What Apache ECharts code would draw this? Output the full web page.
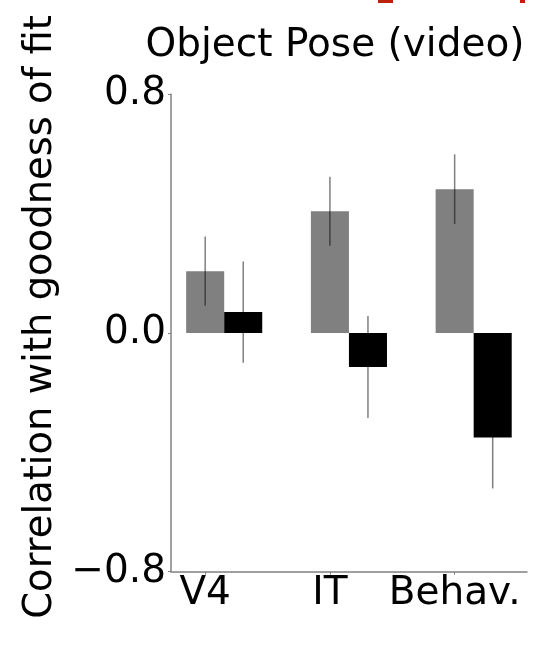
<!DOCTYPE html>
<html>
<head>
<meta charset="utf-8">
<script src="https://cdn.jsdelivr.net/npm/echarts@6/dist/echarts.min.js"></script>
<style>
html,body{margin:0;padding:0;background:#fff;}
#chart{width:552px;height:656px;}
</style>
</head>
<body>
<div id="chart"></div>
<script>
// ---- data ----
var categories = ['V4', 'IT', 'Behav.'];
var grayValues = [0.207, 0.408, 0.482];
var grayErrors = [0.116, 0.116, 0.117];
var blackValues = [0.070, -0.114, -0.350];
var blackErrors = [0.170, 0.171, 0.171];
var yTicks = [-0.8, 0.0, 0.8];
var titleText = 'Object Pose (video)';
var yLabel = 'Correlation with goodness of fit';

// ---- layout ----
var BAR_W = 0.305;          // bar width in category units
var FONT = '"DejaVu Sans", sans-serif';

function seriesData(vals, errs, offset) {
  return vals.map(function (v, i) { return [i + offset, v, errs[i]]; });
}

function barRender(color, errColor) {
  return function (params, api) {
    var x = api.value(0), v = api.value(1), e = api.value(2);
    var p0 = api.coord([x - BAR_W / 2, v]);
    var p1 = api.coord([x + BAR_W / 2, 0]);
    var top = Math.min(p0[1], p1[1]);
    var h = Math.abs(p1[1] - p0[1]);
    var eTop = api.coord([x, v + e]);
    var eBot = api.coord([x, v - e]);
    return {
      type: 'group',
      children: [
        { type: 'rect', shape: { x: p0[0], y: top, width: p1[0] - p0[0], height: h },
          style: { fill: color } },
        { type: 'line', shape: { x1: eTop[0], y1: eTop[1], x2: eBot[0], y2: eBot[1] },
          style: { stroke: errColor, lineWidth: 1.5 } }
      ]
    };
  };
}

var chart = echarts.init(document.getElementById('chart'), null, { renderer: 'canvas' });
chart.setOption({
  animation: false,
  backgroundColor: '#fff',
  title: {
    text: titleText,
    left: 330,
    top: 21,
    textAlign: 'center',
    textStyle: { fontFamily: FONT, fontSize: 39, fontWeight: 'normal', color: '#000' }
  },
  graphic: [
    { type: 'rect', shape: { x: 378, y: 0, width: 15, height: 3 }, style: { fill: '#c0200a' } },
    { type: 'rect', shape: { x: 520, y: 0, width: 5, height: 3 }, style: { fill: '#c0200a' } }
  ],
  grid: { left: 171, right: 25, top: 94.3, bottom: 84.3, containLabel: false },
  xAxis: {
    type: 'value',
    min: -0.274,
    max: 2.58,
    splitLine: { show: false },
    axisLine: { show: true, onZero: false, lineStyle: { color: '#808080', width: 1.5 } },
    axisTick: { show: true, length: 3, lineStyle: { color: '#808080' }, customValues: [0, 1, 2] },
    axisLabel: {
      customValues: [0, 1, 2],
      formatter: function (v) { return categories[Math.round(v)]; },
      fontFamily: FONT, fontSize: 39, color: '#000', margin: 3
    }
  },
  yAxis: {
    type: 'value',
    min: -0.8,
    max: 0.8,
    interval: 0.8,
    name: yLabel,
    nameLocation: 'middle',
    nameGap: 105,
    nameTextStyle: { fontFamily: FONT, fontSize: 38.5, color: '#000', padding: [0, 0, 0, 32] },
    splitLine: { show: false },
    axisLine: { show: true, onZero: false, lineStyle: { color: '#808080', width: 1.5 } },
    axisTick: { show: true, length: 3, lineStyle: { color: '#808080' } },
    axisLabel: {
      fontFamily: FONT, fontSize: 39, color: '#000', margin: 5,
      formatter: function (v) {
        var s = Math.abs(v).toFixed(1);
        return v < -1e-9 ? '\u2212' + s : s;
      }
    }
  },
  series: [
    {
      type: 'custom', name: 'gray',
      renderItem: barRender('#808080', 'rgba(0,0,0,0.5)'),
      encode: { x: 0, y: 1 },
      data: seriesData(grayValues, grayErrors, 0)
    },
    {
      type: 'custom', name: 'black',
      renderItem: barRender('#000000', 'rgba(0,0,0,0.5)'),
      encode: { x: 0, y: 1 },
      data: seriesData(blackValues, blackErrors, BAR_W)
    }
  ]
});
</script>
</body>
</html>
